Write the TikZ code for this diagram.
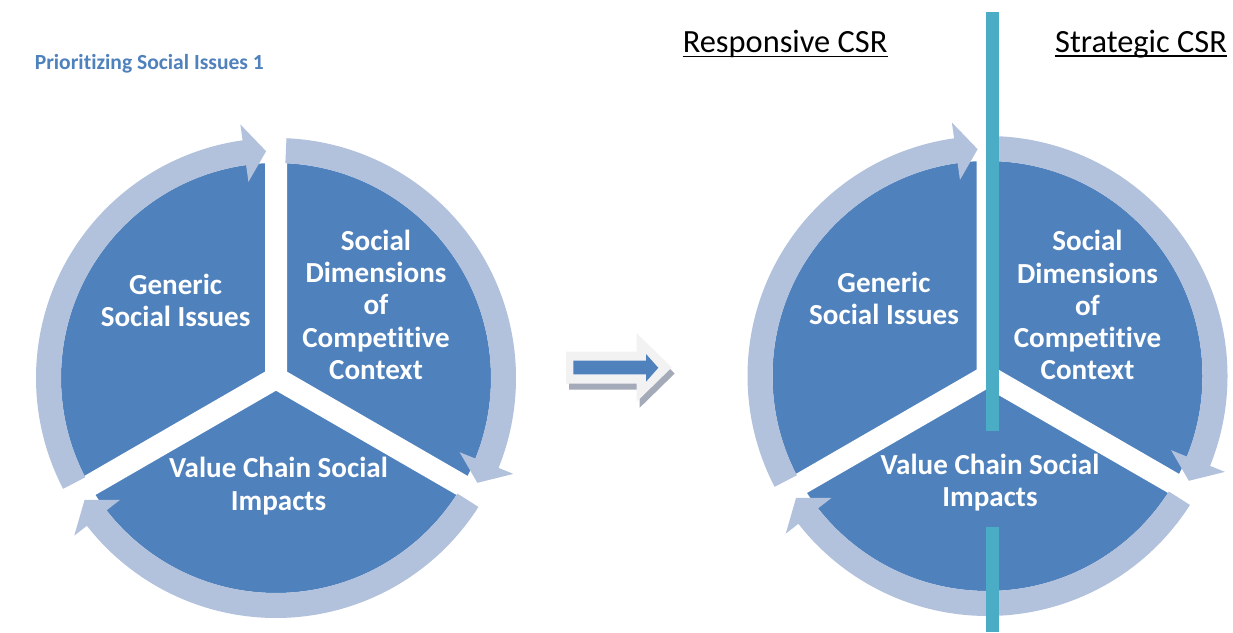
\documentclass[tikz,border=0pt]{standalone}
\usepackage{fontspec}
\setmainfont{Carlito}[Ligatures=NoCommon]
\definecolor{pieblue}{RGB}{79,129,189}
\definecolor{ringblue}{RGB}{178,193,220}
\definecolor{barteal}{RGB}{75,172,198}
\definecolor{arrowlight}{RGB}{242,242,242}
\definecolor{shadowgray}{RGB}{165,170,185}
\newlength\mwA
\newlength\mwB
\newlength\mwC
\newlength\mwD
\newcommand\measurefonts{%
  \settowidth\mwA{\normalfont\fontsize{20pt}{24pt}\selectfont\bfseries Social Issues}%
  \settowidth\mwB{\normalfont\fontsize{20pt}{24pt}\selectfont\bfseries Value Chain Social}%
  \settowidth\mwC{\normalfont\fontsize{20pt}{24pt}\selectfont Responsive CSR}%
  \settowidth\mwD{\normalfont\fontsize{20pt}{24pt}\selectfont\bfseries Prioritizing Social Issues 1}%
  \pgfmathsetmacro\fsBigTmp{(20*148.4/\mwA + 20*220.5/\mwB)/2}%
  \pgfmathsetmacro\fsHeadTmp{20*204.6/\mwC}%
  \pgfmathsetmacro\fsTitleTmp{20*229/\mwD}%
  \global\let\fsBig\fsBigTmp
  \global\let\fsHead\fsHeadTmp
  \global\let\fsTitle\fsTitleTmp}
\AtBeginDocument{\measurefonts}
% ring arrow: #1 centre, #2 start angle, #3 tip angle (clockwise)
\newcommand\ringarrow[3]{%
  \fill[ringarc, shift={#1}] (#2:240) arc[start angle=#2, end angle=#3+5.5, radius=240]
    -- (#3+5.5:256) -- (#3:227) -- (#3+5.5:198) -- (#3+5.5:215)
    arc[start angle=#3+5.5, end angle=#2, radius=215] -- cycle;}
\newcommand\piegaps[1]{%
  \draw[gapstrip, shift={#1}] (0,0) -- (90:218) (0,0) -- (210:218) (0,0) -- (330:218);}
\begin{document}
\begin{tikzpicture}[x=1pt,y=1pt,
  ringarc/.style={fill=ringblue},
  gapstrip/.style={draw=white, line width=22pt, line cap=butt},
  piedisk/.style={fill=pieblue},
  tealbar/.style={fill=barteal},
  ulrule/.style={draw=black, line width=1.8pt},
  pielabel/.style={text=white, align=center, inner sep=0pt, anchor=base,
    font=\fontsize{\fsBig pt}{32.3pt}\selectfont\bfseries},
  headlabel/.style={text=black, inner sep=0pt, anchor=base west,
    font=\fontsize{\fsHead pt}{24pt}\selectfont},
  titlelabel/.style={text=pieblue, inner sep=0pt, anchor=base east,
    font=\fontsize{\fsTitle pt}{24pt}\selectfont\bfseries}]
\useasboundingbox (0,0) rectangle (1233,632);
\fill[white] (0,0) rectangle (1233,632);

% ---------- left cycle ----------
\fill[piedisk] (276,254) circle[radius=215];
\piegaps{(276,254)}
\ringarrow{(276,254)}{207.5}{92.5}
\ringarrow{(276,254)}{87.5}{-27.5}
\ringarrow{(276,254)}{-32.5}{-147.5}

% ---------- right cycle ----------
\fill[piedisk] (987.5,256) circle[radius=215];
\piegaps{(987.5,256)}
\ringarrow{(987.5,256)}{207.5}{92.5}
\ringarrow{(987.5,256)}{87.5}{-27.5}
\ringarrow{(987.5,256)}{-32.5}{-147.5}

% teal divider
\fill[tealbar] (986,201) rectangle (999,620);
\fill[tealbar] (986,0) rectangle (999,105);

% ---------- middle block arrow ----------
\fill[shadowgray, shift={(3,-6)}] (566,280.3) -- (636.7,280.3) -- (636.7,298.7) -- (671.7,264.5)
  -- (636.7,230.3) -- (636.7,248.3) -- (566,248.3) -- cycle;
\fill[arrowlight] (566,280.3) -- (636.7,280.3) -- (636.7,298.7) -- (671.7,264.5)
  -- (636.7,230.3) -- (636.7,248.3) -- (566,248.3) -- cycle;
\fill[pieblue] (573.3,271.3) -- (646,271.3) -- (646,278) -- (658.3,264.2)
  -- (646,250.3) -- (646,257.7) -- (573.3,257.7) -- cycle;

% ---------- texts ----------
\node[titlelabel] (title) at (264,562.7) {Prioritizing Social Issues 1};
\node[headlabel] (resp) at (682.6,579.3) {Responsive CSR};
\node[headlabel] (strat) at (1055,579.8) {Strategic CSR};
\draw[ulrule] ([yshift=-3.8pt]resp.base west) -- ([yshift=-3.8pt]resp.base east);
\draw[ulrule] ([yshift=-3.8pt]strat.base west) -- ([yshift=-3.8pt]strat.base east);

% base anchor = baseline of the last line
\node[pielabel] (genL) at (175.6,305) {Generic\\Social Issues};
\node[pielabel] (dimL) at (376,252.6) {Social\\Dimensions\\of\\Competitive\\Context};
\node[pielabel] (valL) at (278.5,122) {Value Chain Social\\Impacts};

\node[pielabel] (genR) at (884,307) {Generic\\Social Issues};
\node[pielabel] (dimR) at (1087.5,252) {Social\\Dimensions\\of\\Competitive\\Context};
\node[pielabel] (valR) at (990,125.3) {Value Chain Social\\Impacts};
\end{tikzpicture}
\end{document}
